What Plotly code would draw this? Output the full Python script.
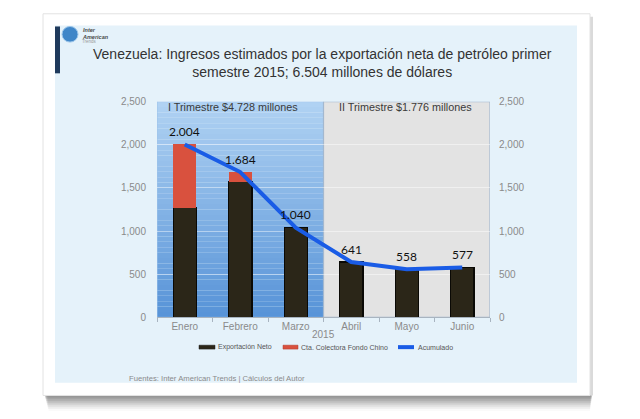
import plotly.graph_objects as go

# ---- data ----
months = ["Enero", "Febrero", "Marzo", "Abril", "Mayo", "Junio"]
export_neto = [1270, 1572, 1040, 641, 558, 577]
fondo_chino = [734, 112, 0, 0, 0, 0]
acumulado = [2004, 1684, 1040, 641, 558, 577]
acum_labels = ["2.004", "1.684", "1.040", "641", "558", "577"]
y_ticks = [0, 500, 1000, 1500, 2000, 2500]
series_names = ["Exportación Neto", "Cta. Colectora Fondo Chino", "Acumulado"]
series_colors = ["#2b2618", "#d9513e", "#1a5ce6"]

W, H = 640, 419
def px(x):
    return x / W
def py(y):
    return 1 - y / H

FONT = "Liberation Sans, Arial, sans-serif"

fig = go.Figure()

fig.add_trace(go.Bar(
    x=months, y=export_neto, name=series_names[0],
    marker=dict(color=series_colors[0], line=dict(color="#0a0905", width=1.2)),
    width=0.42, hoverinfo="skip"))
fig.add_trace(go.Bar(
    x=months, y=fondo_chino, name=series_names[1],
    marker=dict(color=series_colors[1], line=dict(width=0)),
    width=0.42, hoverinfo="skip"))
fig.add_trace(go.Scatter(
    x=months, y=acumulado, name=series_names[2], mode="lines",
    line=dict(color=series_colors[2], width=4), hoverinfo="skip"))
# dummy trace for the right axis
fig.add_trace(go.Scatter(x=months, y=acumulado, yaxis="y2", mode="lines",
                         line=dict(width=0, color="rgba(0,0,0,0)"),
                         showlegend=False, hoverinfo="skip"))

shapes = []
# card shadow
for i in range(8):
    a = 0.28 * (1 - i / 8)
    shapes.append(dict(type="rect", xref="paper", yref="paper",
                       x0=px(45 + i * 0.5), x1=px(592 - i * 0.3),
                       y0=py(400 + 2 * i + 2), y1=py(400),
                       fillcolor=f"rgba(120,120,120,{a:.3f})", line_width=0, layer="below"))
shapes.append(dict(type="rect", xref="paper", yref="paper",
                   x0=px(590), x1=px(593), y0=py(400), y1=py(12),
                   fillcolor="rgba(150,150,150,0.35)", line_width=0, layer="below"))
# card
shapes.append(dict(type="rect", xref="paper", yref="paper",
                   x0=px(43), x1=px(590), y0=py(400), y1=py(9),
                   fillcolor="#ffffff", line=dict(color="#e2e2e2", width=1), layer="below"))
# slide
shapes.append(dict(type="rect", xref="paper", yref="paper",
                   x0=px(55), x1=px(577), y0=py(387), y1=py(21),
                   fillcolor="#e5f2fa", line_width=0, layer="below"))
# dark side bar
shapes.append(dict(type="rect", xref="paper", yref="paper",
                   x0=px(55), x1=px(60), y0=py(70), y1=py(22),
                   fillcolor="#1f3a5c", line_width=0, layer="below"))
# logo globe
shapes.append(dict(type="circle", xref="paper", yref="paper",
                   x0=px(62), x1=px(78), y0=py(38), y1=py(22),
                   fillcolor="#3f86c8", line=dict(color="#9cc6ea", width=1), layer="below"))

# blue gradient region (quarter I)
top = (176, 210, 243)
bot = (88, 148, 216)
n = 40
for i in range(n):
    t = i / (n - 1)
    c = tuple(int(bot[k] + (top[k] - bot[k]) * t) for k in range(3))
    shapes.append(dict(type="rect", xref="x", yref="y",
                       x0=-0.5, x1=2.5, y0=2500 * i / n, y1=2500 * (i + 1) / n,
                       fillcolor=f"rgb{c}", line_width=0, layer="below"))
shapes.append(dict(type="rect", xref="x", yref="y", x0=-0.5, x1=2.5, y0=0, y1=2500,
                   fillcolor="rgba(0,0,0,0)", line=dict(color="#9ec3ea", width=1), layer="below"))
# gray region (quarter II)
shapes.append(dict(type="rect", xref="x", yref="y", x0=2.5, x1=5.5, y0=0, y1=2500,
                   fillcolor="#e3e3e3", line=dict(color="#a3b8cf", width=1.2), layer="below"))

# manual legend symbols
leg_x = [(199, 215), (283, 298), (397, 415)]
for (a, b), col, kind in zip(leg_x, series_colors, ["bar", "bar", "line"]):
    if kind == "bar":
        shapes.append(dict(type="rect", xref="paper", yref="paper",
                           x0=px(a), x1=px(b), y0=py(352.5), y1=py(348.5),
                           fillcolor=col, line=dict(color="#222222" if col == "#2b2618" else "#b03a2c", width=0.5)))
    else:
        shapes.append(dict(type="line", xref="paper", yref="paper",
                           x0=px(a + 1), x1=px(b - 1), y0=py(350.5), y1=py(350.5),
                           line=dict(color=col, width=4)))

annotations = [
    dict(text="Venezuela: Ingresos estimados por la exportación neta de petróleo primer<br>semestre 2015; 6.504 millones de dólares",
         xref="paper", yref="paper", x=px(322), y=py(59), xanchor="center", yanchor="middle",
         showarrow=False, align="center",
         font=dict(family=FONT, size=14, color="#333333")),
    dict(text="I Trimestre $4.728 millones", xref="paper", yref="paper",
         x=px(166), y=py(104), xanchor="left", yanchor="middle", showarrow=False,
         font=dict(family=FONT, size=10.8, color="#3a3a3a")),
    dict(text="II Trimestre $1.776 millones", xref="paper", yref="paper",
         x=px(337), y=py(104), xanchor="left", yanchor="middle", showarrow=False,
         font=dict(family=FONT, size=10.8, color="#3a3a3a")),
    dict(text="2015", xref="paper", yref="paper", x=px(323), y=py(338),
         xanchor="center", yanchor="middle", showarrow=False,
         font=dict(family=FONT, size=10, color="#8a8a8a")),
    dict(text="Fuentes: Inter American Trends | Cálculos del Autor", xref="paper", yref="paper",
         x=px(127), y=py(383), xanchor="left", yanchor="middle", showarrow=False,
         font=dict(family=FONT, size=7.7, color="#8a8a8a")),
    dict(text="<i><b>Inter<br>American</b></i>", xref="paper", yref="paper",
         x=px(80), y=py(29), xanchor="left", yanchor="middle", showarrow=False, align="left",
         font=dict(family=FONT, size=5.5, color="#4a4a4a")),
    dict(text="Trends", xref="paper", yref="paper",
         x=px(80), y=py(37), xanchor="left", yanchor="middle", showarrow=False,
         font=dict(family=FONT, size=4.5, color="#999999")),
]
# legend texts
for (a, b), name in zip(leg_x, series_names):
    annotations.append(dict(text=name, xref="paper", yref="paper",
                            x=px(b + 1), y=py(350.5), xanchor="left", yanchor="middle",
                            showarrow=False,
                            font=dict(family=FONT, size=7, color="#555555")))
# data labels for accumulated line
for m, v, lab in zip(months, acumulado, acum_labels):
    annotations.append(dict(text=lab, x=m, y=v, xref="x", yref="y", yshift=13,
                            showarrow=False, xanchor="center", yanchor="middle",
                            font=dict(family="Lato, Open Sans, sans-serif", size=12, color="#111111")))

axis_font = dict(family=FONT, size=10, color="#8a8a8a")

fig.update_layout(
    width=W, height=H,
    margin=dict(l=0, r=0, t=0, b=0),
    paper_bgcolor="#ffffff", plot_bgcolor="rgba(0,0,0,0)",
    barmode="stack",
    showlegend=False,
    xaxis=dict(domain=[px(157), px(490)], range=[-0.5, 5.5],
               showline=True, linecolor="#a8b4c0", linewidth=1,
               tickson="boundaries", ticks="outside", ticklen=4, tickcolor="#a8b4c0",
               tickfont=axis_font, showgrid=False, fixedrange=True),
    yaxis=dict(domain=[py(320), py(99)], range=[0, 2500], tickvals=y_ticks,
               tickformat=",", tickfont=axis_font, showgrid=True,
               gridcolor="rgba(255,255,255,0.45)", gridwidth=1,
               zeroline=False, showline=False, ticks="", ticklabelstandoff=10),
    yaxis2=dict(overlaying="y", side="right", range=[0, 2500], tickvals=y_ticks,
                tickformat=",", tickfont=axis_font, showgrid=False, zeroline=False,
                showline=False, ticks="", ticklabelstandoff=8),
    shapes=shapes, annotations=annotations,
)

fig.write_html("out.html", config={"displayModeBar": False},
               post_script="document.body.style.margin='0';document.body.style.overflow='hidden';")
